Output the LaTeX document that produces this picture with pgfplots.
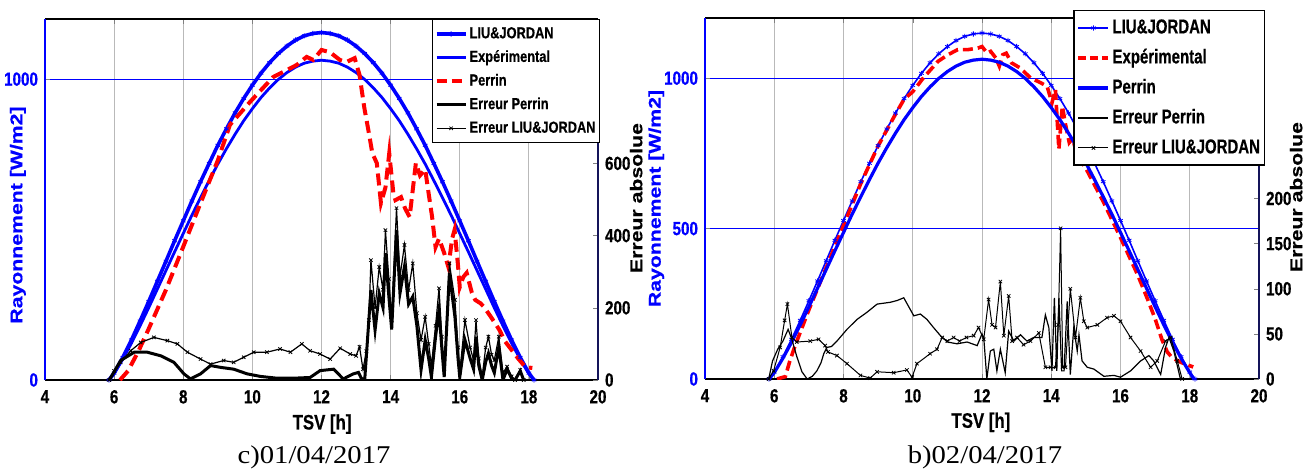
\documentclass[border=0pt]{standalone}
\usepackage{pgfplots}
\pgfplotsset{compat=1.18}
\usepackage{fontspec}
\setmainfont{Liberation Sans}
\newfontfamily\nb[FakeStretch=0.8,FakeBold=0.6]{Liberation Sans}
\newfontfamily\lgA[FakeStretch=0.8,FakeBold=0.5]{Liberation Sans}
\newfontfamily\lgB[FakeStretch=0.75,FakeBold=0.5]{Liberation Sans}
\newfontfamily\rb[FakeStretch=1.25,FakeBold=0.5]{Liberation Sans}
\newfontfamily\capfont[FakeStretch=1.12]{Liberation Serif}
\definecolor{mblue}{RGB}{0,0,255}
\definecolor{mred}{RGB}{255,0,0}
\definecolor{gridgray}{RGB}{185,185,185}
\definecolor{navy}{RGB}{20,20,90}

\pgfplotsset{
  base/.style={
    scale only axis, height=180.5pt,
    xmin=4, xmax=20, ymin=0,
    tick align=inside, major tick length=2.5pt,
    /pgf/number format/assume math mode=true,
    /pgf/number format/1000 sep={},
    ticklabel style={font=\nb\bfseries\fontsize{9.5}{10}\selectfont},
    xticklabel style={yshift=-1.5pt},
    every axis y label/.style={rotate=90, anchor=center, font=\rb\bfseries\fontsize{8.5}{10}\selectfont},
    every axis x label/.style={anchor=center, font=\nb\bfseries\fontsize{10.5}{12}\selectfont},
    legend cell align=left,
  },
  left/.style={base,
    axis x line*=box, axis y line*=left,
    x axis line style={black, line width=0.6pt},
    y axis line style={mblue, line width=0.6pt},
    xtick={4,6,...,20},
    xmajorgrids, ymajorgrids,
    x grid style={gridgray, line width=0.4pt},
    y grid style={mblue, line width=0.3pt},
    yticklabel style={text=mblue},
    xlabel={TSV [h]},
    ylabel={\color{mblue}Rayonnement [W/m2]},
  },
  right/.style={base,
    axis x line=none, axis y line*=right,
    y axis line style={navy, line width=0.6pt},
    ylabel={Erreur absolue},
  },
}

\begin{document}
\begin{tikzpicture}
\path[use as bounding box] (0,0) rectangle (652.5pt,236.5pt);

%================ LEFT PANEL =================
\begin{axis}[left, at={(22.5pt,46.5pt)}, anchor=south west, width=276.5pt,
  ymax=1200, ytick={0,1000},
  every axis y label/.append style={at={(axis description cs:-0.049,0.457)}},
  every axis x label/.append style={at={(axis description cs:0.501,-0.122)}}]
% LIU&JORDAN
\addplot[mblue, line width=1.8pt, mark=asterisk, mark size=1.3pt, mark options={line width=0.4pt}] coordinates {
(5.85,0)(6,23)(6.25,75)(6.5,133)(6.75,196)(7,261)(7.25,328)(7.5,395)(7.75,463)(8,529)(8.25,595)(8.5,659)(8.75,720)(9,780)(9.25,835)(9.5,888)(9.75,936)(10,980)(10.25,1020)(10.5,1055)(10.75,1085)(11,1110)(11.25,1130)(11.5,1144)(11.75,1152)(12,1155)(12.25,1152)(12.5,1144)(12.75,1130)(13,1110)(13.25,1085)(13.5,1055)(13.75,1020)(14,980)(14.25,936)(14.5,888)(14.75,835)(15,780)(15.25,720)(15.5,659)(15.75,595)(16,529)(16.25,463)(16.5,395)(16.75,328)(17,261)(17.25,196)(17.5,133)(17.75,75)(18,23)(18.15,0)};
% Experimental (blue solid)
\addplot[mblue, line width=1.4pt] coordinates {
(5.85,0)(6,21)(6.25,69)(6.5,122)(6.75,180)(7,240)(7.25,302)(7.5,364)(7.75,426)(8,487)(8.25,548)(8.5,606)(8.75,663)(9,718)(9.25,769)(9.5,817)(9.75,862)(10,902)(10.25,939)(10.5,971)(10.75,999)(11,1022)(11.25,1040)(11.5,1053)(11.75,1060)(12,1063)(12.25,1060)(12.5,1053)(12.75,1040)(13,1022)(13.25,999)(13.5,971)(13.75,939)(14,902)(14.25,862)(14.5,817)(14.75,769)(15,718)(15.25,663)(15.5,606)(15.75,548)(16,487)(16.25,426)(16.5,364)(16.75,302)(17,240)(17.25,180)(17.5,122)(17.75,69)(18,21)(18.15,0)};
% Perrin (red dashed)
\addplot[mred, line width=2pt, dash pattern=on 6pt off 3pt] coordinates {
(6.17,0)(6.4,30)(6.7,95)(7,170)(7.5,300)(8,443)(8.5,588)(9,730)(9.35,848)(9.93,924)(10.6,1007)(11.28,1047)(11.57,1074)(11.76,1064)(12.0,1097)(12.24,1090)(12.53,1064)(12.72,1057)(12.96,1070)(13.1,1014)(13.24,904)(13.38,815)(13.47,754)(13.6,721)(13.72,588)(13.85,640)(13.96,754)(14.08,620)(14.14,598)(14.3,608)(14.42,570)(14.55,542)(14.73,721)(14.85,680)(15.0,700)(15.1,620)(15.2,542)(15.3,442)(15.4,470)(15.55,422)(15.67,376)(15.78,470)(15.85,499)(15.95,380)(16.0,309)(16.1,342)(16.2,356)(16.35,290)(16.45,266)(16.6,255)(16.7,243)(16.9,210)(17.15,166)(17.3,130)(17.5,100)(17.7,70)(17.9,43)(18.1,40)};
\end{axis}

\begin{axis}[right, at={(22.5pt,46.5pt)}, anchor=south west, width=276.5pt,
  ymax=1000, ytick={0,200,400,600},
  every axis y label/.append style={at={(axis description cs:1.069,0.504)}},
  legend style={at={(rel axis cs:1.004,1)}, anchor=north east, draw=black, line width=0.7pt,
    inner xsep=1pt, inner ysep=1.5pt,
    font=\lgA\bfseries\fontsize{8}{9}\selectfont,
    nodes={inner xsep=1pt, inner ysep=1.6pt, text height=6.2pt, text depth=1.8pt}, row sep=0.6pt},
  legend image code/.code={\draw[mark repeat=2,mark phase=2,#1] plot coordinates {(0pt,0pt)(7.25pt,0pt)(14.5pt,0pt)};}]
\addlegendimage{mblue, line width=1.8pt, mark=asterisk, mark size=1.3pt, mark options={line width=0.4pt}}
\addlegendentry{LIU\&JORDAN}
\addlegendimage{mblue, line width=1.4pt}
\addlegendentry{Expérimental}
\addlegendimage{mred, line width=2pt, dash pattern=on 5pt off 2.5pt}
\addlegendentry{Perrin}
% Erreur Perrin
\addplot[black, line width=1.5pt] coordinates {
(5.86,0)(6.19,54)(6.58,77)(6.96,77)(7.35,67)(7.73,49)(8.02,17)(8.21,3)(8.5,17)(8.79,40)(9.08,35)(9.46,30)(9.85,17)(10.23,10)(10.71,5)(11.19,5)(11.67,7)(11.96,26)(12.35,30)(12.63,3)(12.92,17)(13.07,21)(13.15,5)(13.25,0)(13.37,166)(13.43,249)(13.55,138)(13.67,240)(13.78,200)(13.85,351)(13.95,230)(14.03,140)(14.17,415)(14.27,240)(14.4,314)(14.52,210)(14.64,231)(14.76,150)(14.88,28)(15.0,111)(15.1,60)(15.18,8)(15.3,120)(15.4,194)(15.48,90)(15.55,8)(15.7,296)(15.86,175)(15.95,60)(16.0,8)(16.15,111)(16.3,60)(16.4,30)(16.47,120)(16.55,40)(16.65,0)(16.75,50)(16.83,74)(16.92,40)(17.0,20)(17.13,92)(17.25,0)(17.37,30)(17.5,5)(17.6,0)(17.75,25)(17.85,0)};
\addlegendentry{Erreur Perrin}
% Erreur LIU&JORDAN
\addplot[black, line width=0.6pt, mark=x, mark size=1.2pt, mark options={line width=0.4pt}] coordinates {
(5.86,0)(6.0,25)(6.19,49)(6.48,81)(6.77,104)(7.15,118)(7.54,109)(7.83,100)(8.12,77)(8.5,58)(8.79,44)(9.17,54)(9.46,49)(9.75,63)(10.04,77)(10.42,77)(10.8,86)(11.1,77)(11.43,100)(11.67,81)(11.96,72)(12.25,58)(12.54,88)(12.83,72)(13.0,67)(13.1,92)(13.2,30)(13.3,80)(13.37,166)(13.43,332)(13.55,200)(13.67,313)(13.78,250)(13.85,415)(13.95,280)(14.03,166)(14.17,476)(14.27,286)(14.4,374)(14.52,249)(14.64,323)(14.76,185)(14.88,111)(15.0,175)(15.1,100)(15.18,40)(15.3,150)(15.4,254)(15.48,120)(15.55,30)(15.7,323)(15.86,222)(15.95,90)(16.0,20)(16.15,166)(16.3,90)(16.4,55)(16.47,166)(16.55,60)(16.65,10)(16.75,90)(16.83,120)(16.92,70)(17.0,55)(17.13,120)(17.25,20)(17.37,37)(17.5,10)(17.6,0)(17.75,28)(17.85,0)};
\addlegendentry{Erreur LIU\&JORDAN}
\end{axis}

%================ RIGHT PANEL =================
\begin{axis}[left, at={(352.5pt,47pt)}, anchor=south west, width=277pt,
  ymax=1200, ytick={0,500,1000},
  every axis y label/.append style={at={(axis description cs:-0.088,0.50)}},
  every axis x label/.append style={at={(axis description cs:0.498,-0.12)}}]
% LIU&JORDAN
\addplot[mblue, line width=0.8pt, mark=asterisk, mark size=1.3pt, mark options={line width=0.4pt}] coordinates {
(5.85,0)(6,23)(6.25,74)(6.5,132)(6.75,195)(7,260)(7.25,326)(7.5,393)(7.75,461)(8,527)(8.25,592)(8.5,656)(8.75,717)(9,776)(9.25,831)(9.5,884)(9.75,932)(10,976)(10.25,1016)(10.5,1051)(10.75,1081)(11,1105)(11.25,1125)(11.5,1139)(11.75,1147)(12,1150)(12.25,1147)(12.5,1139)(12.75,1125)(13,1105)(13.25,1081)(13.5,1051)(13.75,1016)(14,976)(14.25,932)(14.5,884)(14.75,831)(15,776)(15.25,717)(15.5,656)(15.75,592)(16,527)(16.25,461)(16.5,393)(16.75,326)(17,260)(17.25,195)(17.5,132)(17.75,74)(18,23)(18.15,0)};
% Experimental (red dashed)
\addplot[mred, line width=1.8pt, dash pattern=on 5pt off 2.5pt] coordinates {
(6.08,0)(6.32,8)(6.45,60)(6.6,110)(7,230)(7.5,370)(8,510)(8.5,650)(9,775)(9.5,880)(9.75,930)(10,955)(10.3,1000)(10.73,1056)(11.02,1078)(11.3,1095)(11.6,1095)(11.88,1100)(12.0,1105)(12.15,1083)(12.25,1089)(12.4,1067)(12.5,1040)(12.6,1078)(12.7,1083)(12.85,1051)(13.1,1034)(13.4,1001)(13.69,985)(13.88,973)(14.02,918)(14.12,962)(14.22,764)(14.32,907)(14.42,841)(14.52,786)(14.62,800)(14.75,740)(15.0,700)(15.5,590)(16.0,470)(16.5,345)(16.8,260)(17.0,200)(17.2,130)(17.35,90)(17.5,70)(17.75,55)(18.1,40)};
% Perrin (blue thick)
\addplot[mblue, line width=1.6pt] coordinates {
(5.85,0)(6,21)(6.25,69)(6.5,122)(6.75,180)(7,240)(7.25,302)(7.5,364)(7.75,426)(8,487)(8.25,548)(8.5,606)(8.75,663)(9,718)(9.25,769)(9.5,817)(9.75,862)(10,902)(10.25,939)(10.5,971)(10.75,999)(11,1022)(11.25,1040)(11.5,1053)(11.75,1060)(12,1063)(12.25,1060)(12.5,1053)(12.75,1040)(13,1022)(13.25,999)(13.5,971)(13.75,939)(14,902)(14.25,862)(14.5,817)(14.75,769)(15,718)(15.25,663)(15.5,606)(15.75,548)(16,487)(16.25,426)(16.5,364)(16.75,302)(17,240)(17.25,180)(17.5,122)(17.75,69)(18,21)(18.12,0)};
\end{axis}

\begin{axis}[right, at={(352.5pt,47pt)}, anchor=south west, width=277pt,
  ymax=400, ytick={0,50,100,150,200},
  every axis y label/.append style={at={(axis description cs:1.067,0.504)}},
  legend style={at={(rel axis cs:1.011,1.022)}, anchor=north east, draw=black, line width=0.7pt,
    inner xsep=1.2pt, inner ysep=1.5pt,
    font=\lgB\bfseries\fontsize{10}{12}\selectfont,
    nodes={inner xsep=1pt, inner ysep=2.2pt, text height=7.6pt, text depth=2.2pt}, row sep=0.8pt},
  legend image code/.code={\draw[mark repeat=2,mark phase=2,#1] plot coordinates {(0pt,0pt)(7.5pt,0pt)(15pt,0pt)};}]
\addlegendimage{mblue, line width=0.8pt, mark=asterisk, mark size=1.3pt, mark options={line width=0.4pt}}
\addlegendentry{LIU\&JORDAN}
\addlegendimage{mred, line width=1.8pt, dash pattern=on 4pt off 2pt}
\addlegendentry{Expérimental}
\addlegendimage{mblue, line width=2pt}
\addlegendentry{Perrin}
% Erreur Perrin
\addplot[black, line width=0.6pt] coordinates {
(5.84,0)(5.95,20)(6.1,33)(6.25,42)(6.4,55)(6.5,45)(6.65,25)(6.8,8)(6.95,0)(7.1,3)(7.23,9)(7.35,18)(7.43,28)(7.52,35)(7.65,36)(7.81,42)(8.1,55)(8.39,66)(8.68,74)(8.97,83)(9.35,85)(9.55,87)(9.74,90)(10.03,70)(10.22,72)(10.41,66)(10.6,57)(10.8,48)(11.0,41)(11.28,39)(11.57,41)(11.86,37)(12.0,50)(12.05,46)(12.14,0)(12.24,31)(12.34,33)(12.43,9)(12.53,33)(12.67,7)(12.77,53)(12.92,42)(13.11,49)(13.3,42)(13.49,46)(13.73,46)(13.83,71)(13.93,57)(14.02,9)(14.09,90)(14.16,9)(14.22,90)(14.3,9)(14.37,9)(14.46,86)(14.55,5)(14.65,57)(14.75,31)(14.8,49)(14.89,20)(15.04,13)(15.23,11)(15.52,3)(15.81,4)(16.0,2)(16.29,9)(16.58,20)(16.82,26)(16.96,20)(17.16,5)(17.3,35)(17.4,46)(17.54,31)(17.73,0)};
\addlegendentry{Erreur Perrin}
% Erreur LIU&JORDAN
\addplot[black, line width=0.5pt, mark=x, mark size=1.2pt, mark options={line width=0.4pt}] coordinates {
(5.84,0)(5.98,9)(6.17,35)(6.3,65)(6.38,83)(6.51,46)(6.65,41)(7.04,42)(7.28,44)(7.47,37)(7.55,30)(7.81,26)(8.1,17)(8.49,4)(8.77,1)(8.97,8)(9.45,7)(9.83,10)(9.98,2)(10.12,17)(10.5,28)(10.7,33)(10.85,46)(11.0,42)(11.18,46)(11.35,42)(11.55,46)(11.76,48)(11.9,57)(12.05,44)(12.19,88)(12.29,60)(12.39,57)(12.53,108)(12.63,48)(12.77,92)(12.87,42)(13.01,46)(13.2,38)(13.4,42)(13.64,51)(13.83,13)(13.98,13)(14.12,13)(14.2,60)(14.27,167)(14.33,13)(14.41,13)(14.55,100)(14.7,46)(14.84,90)(14.94,64)(15.04,57)(15.33,60)(15.61,68)(15.81,70)(16.0,64)(16.29,46)(16.58,31)(16.87,13)(17.06,20)(17.3,42)(17.45,46)(17.64,20)(17.78,0)};
\addlegendentry{Erreur LIU\&JORDAN}
\end{axis}

\node[font=\capfont\fontsize{12.8}{14}\selectfont] at (157pt,8pt) {c)01/04/2017};
\node[font=\capfont\fontsize{12.8}{14}\selectfont] at (492.5pt,8pt) {b)02/04/2017};
\end{tikzpicture}
\end{document}
